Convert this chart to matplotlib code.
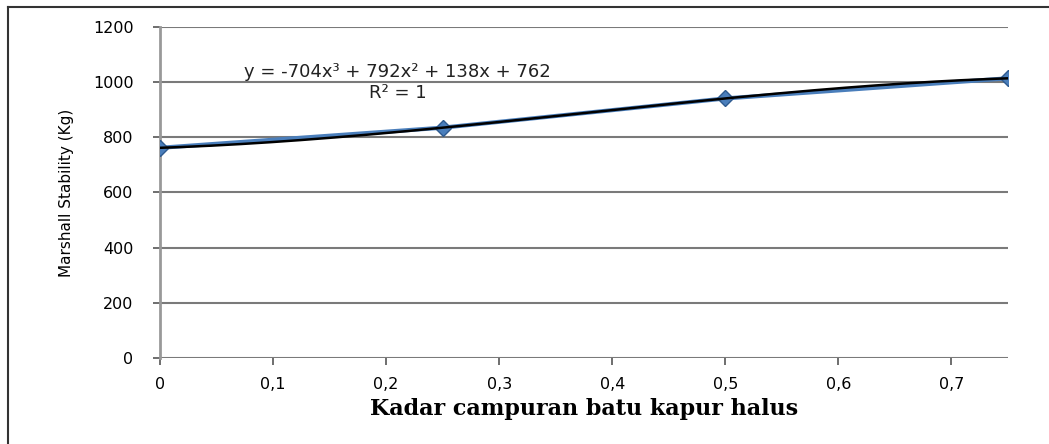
import numpy as np
import matplotlib.pyplot as plt
from matplotlib.lines import Line2D

# data
kadar = [0, 0.25, 0.5, 0.75]
stability = [762, 835, 941, 1014]
x_ticks = [0, 0.1, 0.2, 0.3, 0.4, 0.5, 0.6, 0.7]
y_ticks = [0, 200, 400, 600, 800, 1000, 1200]

fig = plt.figure(figsize=(10.49, 4.44), dpi=100)
ax = fig.add_axes([160/1049, 1 - 358/444, (1008 - 160)/1049, (358 - 27)/444])

# outer chart frame (left + top visible)
fig.add_artist(Line2D([8/1049, 8/1049], [0, 1 - 7/444], color='#333333', lw=1.5))
fig.add_artist(Line2D([8/1049, 1], [1 - 7/444, 1 - 7/444], color='#333333', lw=1.5))

# gridlines
for yv in y_ticks:
    ax.axhline(yv, color='#7a7a7a', lw=1.5, zorder=0)

# data series
ax.plot(kadar, stability, color='#4a7ebb', lw=3, marker='D', ms=8,
        markerfacecolor='#4a7ebb', markeredgecolor='#2e5a8f', zorder=3)

# polynomial trendline
coef = np.polyfit(kadar, stability, 3)
xs = np.linspace(0, 0.75, 200)
ax.plot(xs, np.polyval(coef, xs), color='black', lw=1.8, zorder=4)

c = np.round(coef).astype(int)
ax.text(0.21, 1037, f"y = {c[0]}x³ + {c[1]}x² + {c[2]}x + {c[3]}",
        ha='center', va='center', fontsize=13, color='#222222')
ax.text(0.21, 962, "R² = 1", ha='center', va='center', fontsize=13, color='#222222')

ax.set_xlim(0, 0.75)
ax.set_ylim(0, 1200)
ax.set_xticks(x_ticks)
ax.set_xticklabels([('%g' % v).replace('.', ',') for v in x_ticks], fontsize=11.5)
ax.set_yticks(y_ticks)
ax.set_yticklabels([str(v) for v in y_ticks], fontsize=11.5)
ax.tick_params(axis='x', length=5, width=1.2, color='#555555', pad=9)
ax.tick_params(axis='y', length=5, width=1.2, color='#555555', pad=14)

for s in ['top', 'right', 'bottom']:
    ax.spines[s].set_visible(False)
ax.spines['left'].set_color('#999999')
ax.spines['left'].set_linewidth(2)

ax.set_ylabel("Marshall Stability (Kg)", family=['Liberation Sans Narrow', 'DejaVu Sans'],
              fontsize=11, labelpad=14)
ax.set_xlabel("Kadar campuran batu kapur halus", family=['DejaVu Serif'],
              fontweight='bold', fontsize=16, labelpad=4)

fig.savefig('out.png', dpi=100)
